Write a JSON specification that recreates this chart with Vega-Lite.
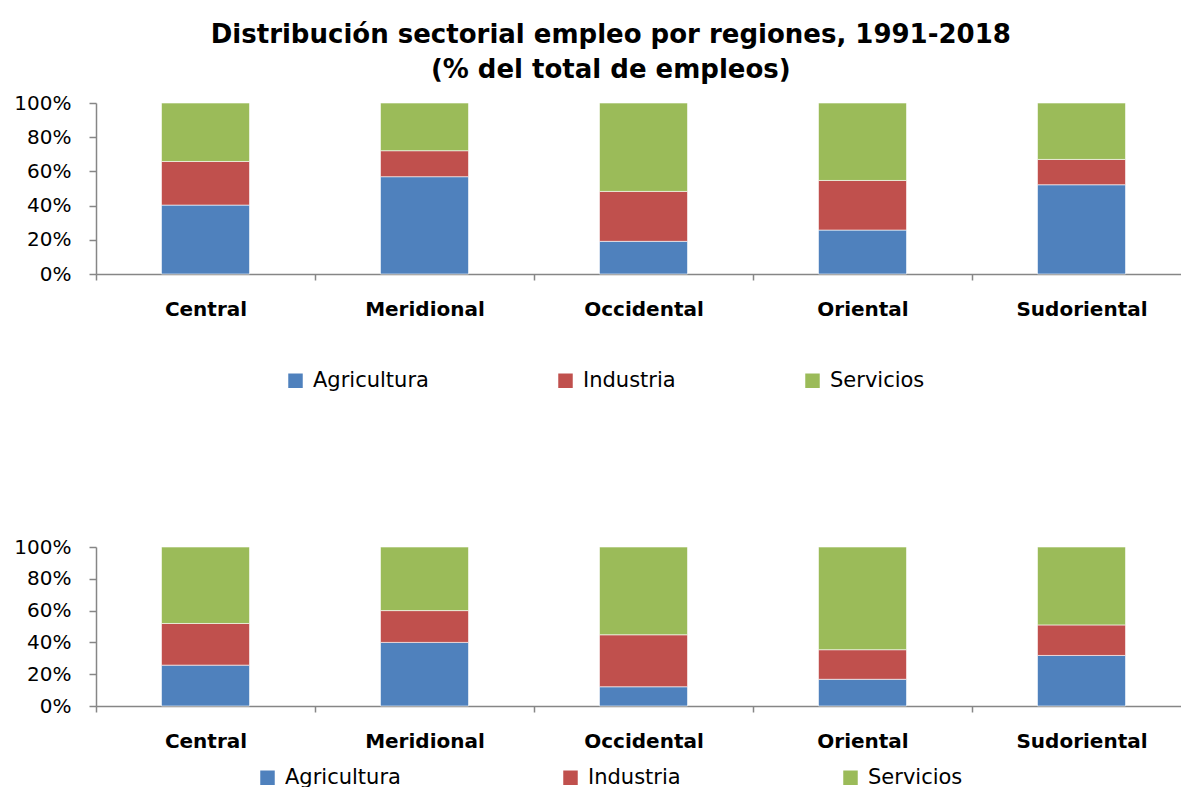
{
  "$schema": "https://vega.github.io/schema/vega-lite/v6.json",
  "background": "white",
  "padding": {"left": 13, "top": 22, "right": 0, "bottom": 0},
  "title": {
    "text": ["Distribución sectorial empleo por regiones, 1991-2018", "(% del total de empleos)"],
    "font": "DejaVu Sans",
    "fontSize": 26,
    "fontWeight": "bold",
    "color": "#000000",
    "anchor": "middle",
    "lineHeight": 35,
    "offset": 10,
    "dx": 8
  },
  "datasets": {
    "d1991": [
      {"region": "Central", "sector": "Agricultura", "valor": 40.3},
      {"region": "Central", "sector": "Industria", "valor": 25.5},
      {"region": "Central", "sector": "Servicios", "valor": 34.2},
      {"region": "Meridional", "sector": "Agricultura", "valor": 56.9},
      {"region": "Meridional", "sector": "Industria", "valor": 15.2},
      {"region": "Meridional", "sector": "Servicios", "valor": 27.9},
      {"region": "Occidental", "sector": "Agricultura", "valor": 19.1},
      {"region": "Occidental", "sector": "Industria", "valor": 29.2},
      {"region": "Occidental", "sector": "Servicios", "valor": 51.7},
      {"region": "Oriental", "sector": "Agricultura", "valor": 25.7},
      {"region": "Oriental", "sector": "Industria", "valor": 29.0},
      {"region": "Oriental", "sector": "Servicios", "valor": 45.3},
      {"region": "Sudoriental", "sector": "Agricultura", "valor": 52.2},
      {"region": "Sudoriental", "sector": "Industria", "valor": 14.8},
      {"region": "Sudoriental", "sector": "Servicios", "valor": 33.0}
    ],
    "d2018": [
      {"region": "Central", "sector": "Agricultura", "valor": 25.7},
      {"region": "Central", "sector": "Industria", "valor": 26.2},
      {"region": "Central", "sector": "Servicios", "valor": 48.1},
      {"region": "Meridional", "sector": "Agricultura", "valor": 40.0},
      {"region": "Meridional", "sector": "Industria", "valor": 20.0},
      {"region": "Meridional", "sector": "Servicios", "valor": 40.0},
      {"region": "Occidental", "sector": "Agricultura", "valor": 12.1},
      {"region": "Occidental", "sector": "Industria", "valor": 32.7},
      {"region": "Occidental", "sector": "Servicios", "valor": 55.2},
      {"region": "Oriental", "sector": "Agricultura", "valor": 16.8},
      {"region": "Oriental", "sector": "Industria", "valor": 18.6},
      {"region": "Oriental", "sector": "Servicios", "valor": 64.6},
      {"region": "Sudoriental", "sector": "Agricultura", "valor": 31.8},
      {"region": "Sudoriental", "sector": "Industria", "valor": 19.2},
      {"region": "Sudoriental", "sector": "Servicios", "valor": 49.0}
    ]
  },
  "vconcat": [
    {
      "data": {"name": "d1991"},
      "width": 1095,
      "height": 171,
      "mark": {"type": "bar", "width": {"band": 0.402}, "stroke": "#ffffff", "strokeWidth": 0.6},
      "encoding": {
        "x": {"field": "region", "type": "nominal", "sort": null, "scale": {"paddingInner": 0, "paddingOuter": 0}, "axis": {"title": null}},
        "y": {"field": "valor", "type": "quantitative", "stack": "normalize", "scale": {"domain": [0, 1]}, "axis": {"title": null}},
        "order": {"field": "sector", "sort": "ascending"},
        "color": {
          "field": "sector", "type": "nominal",
          "scale": {"domain": ["Agricultura", "Industria", "Servicios"], "range": ["#4F81BD", "#C0504D", "#9BBB59"]},
          "legend": {"orient": "none", "legendX": 189, "legendY": 267, "direction": "horizontal", "columnPadding": 126}
        }
      }
    },
    {
      "data": {"name": "d2018"},
      "width": 1095,
      "height": 159,
      "mark": {"type": "bar", "width": {"band": 0.402}, "stroke": "#ffffff", "strokeWidth": 0.6},
      "encoding": {
        "x": {"field": "region", "type": "nominal", "sort": null, "scale": {"paddingInner": 0, "paddingOuter": 0}, "axis": {"title": null}},
        "y": {"field": "valor", "type": "quantitative", "stack": "normalize", "scale": {"domain": [0, 1]}, "axis": {"title": null}},
        "order": {"field": "sector", "sort": "ascending"},
        "color": {
          "field": "sector", "type": "nominal",
          "scale": {"domain": ["Agricultura", "Industria", "Servicios"], "range": ["#4F81BD", "#C0504D", "#9BBB59"]},
          "legend": {"orient": "none", "legendX": 161, "legendY": 220, "direction": "horizontal", "columnPadding": 159}
        }
      }
    }
  ],
  "spacing": 146,
  "resolve": {"legend": {"color": "independent"}},
  "config": {
    "view": {"stroke": null},
    "axisX": {
      "labelFont": "DejaVu Sans", "labelFontSize": 20, "labelFontWeight": "bold", "labelColor": "#000000",
      "labelAngle": 0, "labelPadding": 19, "tickBand": "extent",
      "domainColor": "#868686", "domainWidth": 1.5, "tickColor": "#868686", "tickWidth": 1.5, "tickSize": 6, "grid": false
    },
    "axisY": {
      "labelFont": "DejaVu Sans", "labelFontSize": 20, "labelColor": "#000000", "labelPadding": 18,
      "format": ".0%", "values": [0, 0.2, 0.4, 0.6, 0.8, 1],
      "domainColor": "#868686", "domainWidth": 1.5, "tickColor": "#868686", "tickWidth": 1.5, "tickSize": 7, "grid": false
    },
    "legend": {
      "labelFont": "DejaVu Sans", "labelFontSize": 21, "labelColor": "#000000", "symbolType": "square",
      "symbolSize": 210, "symbolStrokeWidth": 0, "labelOffset": 7, "title": null
    }
  }
}
